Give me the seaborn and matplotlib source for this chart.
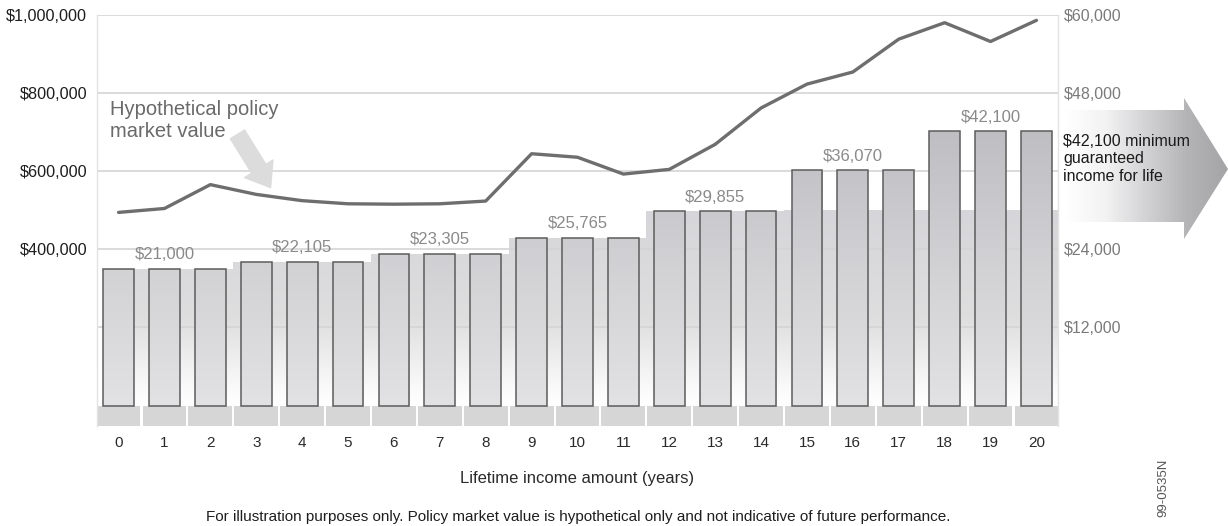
import numpy as np
import matplotlib
matplotlib.use("Agg")
import matplotlib.pyplot as plt
import seaborn as sns
from matplotlib.patches import Polygon, FancyArrowPatch
from matplotlib.colors import LinearSegmentedColormap

# ---------------- data ----------------
years = [0, 1, 2, 3, 4, 5, 6, 7, 8, 9, 10, 11, 12, 13, 14, 15, 16, 17, 18, 19, 20]
income = [21000, 21000, 21000, 22105, 22105, 22105, 23305, 23305, 23305,
          25765, 25765, 25765, 29855, 29855, 29855, 36070, 36070, 36070,
          42100, 42100, 42100]
market_value = [494000, 504000, 565000, 540000, 524000, 516000, 515000,
                516000, 523000, 644000, 635000, 592000, 604000, 668000,
                761000, 822000, 853000, 937000, 979000, 931000, 985000]
label_years = [1, 4, 7, 10, 13, 16, 19]
left_ticks = [400000, 600000, 800000, 1000000]
right_ticks = [12000, 24000, 48000, 60000]
grid_levels = [12000, 24000, 36000, 48000, 60000]
x_label = "Lifetime income amount (years)"
footnote = ("For illustration purposes only. Policy market value is hypothetical "
            "only and not indicative of future performance.")
line_note = "Hypothetical policy\nmarket value"
arrow_note = "$42,100 minimum\nguaranteed\nincome for life"
code_note = "99-0535N"

# ---------------- setup ----------------
sns.set_theme(style="white")
plt.rcParams["font.family"] = ["Liberation Sans", "DejaVu Sans"]

W, H = 1228, 526
fig = plt.figure(figsize=(W / 100, H / 100), dpi=100)
fig.patch.set_facecolor("white")

INC_MIN, INC_MAX = -3130, 60000
SCALE = 1000000 / 60000
XMIN, XMAX = -0.47, 20.47

# background layer (big arrow on the right)
bg = fig.add_axes([0, 0, 1, 1], zorder=-1)
bg.set_xlim(0, W)
bg.set_ylim(H, 0)
bg.axis("off")
arrow_pts = [(1066, 110), (1184, 110), (1184, 98), (1228, 169),
             (1184, 239), (1184, 222), (1066, 222)]
arr_poly = Polygon(arrow_pts, closed=True, facecolor="none", edgecolor="none")
bg.add_patch(arr_poly)
arr_cmap = LinearSegmentedColormap.from_list(
    "arr", ["#ffffff", "#f2f2f3", "#d2d2d4", "#b4b4b6", "#a4a4a6"])
gx = np.linspace(0, 1, 256).reshape(1, -1)
arr_im = bg.imshow(gx, extent=[1066, 1228, 240, 96], cmap=arr_cmap,
                   aspect="auto", interpolation="bilinear")
arr_im.set_clip_path(arr_poly)
bg.set_xlim(0, W)
bg.set_ylim(H, 0)

# main axes (income, bars)
ax = fig.add_axes([97 / W, 1 - 426 / H, (1058 - 97) / W, (426 - 14.5) / H])
ax.patch.set_visible(False)

# step-shaped shaded band behind bars
xe = [-0.335] + years + [20.5]
ye = [income[0]] + income + [income[-1]]
band = ax.fill_between(xe, 0, ye, step="mid", facecolor="none",
                       edgecolor="none", zorder=1)
band_cmap = LinearSegmentedColormap.from_list(
    "band", [(0.0, "#ffffff"), (0.08, "#fbfbfb"), (0.45, "#dededf"),
             (1.0, "#d6d6da")])
gy = np.linspace(0, 1, 256).reshape(-1, 1)
band_im = ax.imshow(gy, extent=[XMIN, XMAX, 0, 30000], origin="lower",
                    cmap=band_cmap, aspect="auto", zorder=1,
                    interpolation="bilinear")
band_im.set_clip_path(band.get_paths()[0], ax.transData)

# gridlines
for g in grid_levels:
    ax.axhline(g, color="#d4d4d4", lw=1.2, zorder=1.5)

# bars
sns.barplot(x=years, y=income, ax=ax, width=0.67, color="#d0d0d4",
            saturation=1, edgecolor="#5c5c5c", linewidth=1.1, zorder=3)
bars = list(ax.patches)
bar_cmap = LinearSegmentedColormap.from_list(
    "bar", [(0.0, "#e2e2e4"), (0.45, "#d3d3d6"), (1.0, "#bdbdc1")])
for p in bars:
    p.set_facecolor("none")
    p.set_zorder(3)
    im = ax.imshow(gy, extent=[XMIN, XMAX, 0, 44000], origin="lower",
                   cmap=bar_cmap, aspect="auto", zorder=2.8,
                   interpolation="bilinear")
    im.set_clip_path(p)

# bottom strip cells
ax.bar(years, [INC_MIN] * len(years), width=0.955, bottom=0,
       color="#d6d6d6", edgecolor="none", zorder=2)

# labels above bars
for yr in label_years:
    v = income[years.index(yr)]
    ax.annotate(f"${v:,}", xy=(yr, v), xytext=(0, 4.5),
                textcoords="offset points", ha="center", va="bottom",
                fontsize=12, color="#8a8a8a", zorder=5)

ax.set_xlim(XMIN, XMAX)
ax.set_ylim(INC_MIN, INC_MAX)
ax.set_xticks(years)
ax.set_xticklabels([str(y) for y in years])
ax.tick_params(axis="x", length=0, pad=7, labelsize=11, labelcolor="#2a2a2a")
ax.set_xlabel(x_label, fontsize=12, color="#2a2a2a", labelpad=15)
ax.set_ylabel("")
for s in ["top", "bottom"]:
    ax.spines[s].set_visible(False)
for s in ["left", "right"]:
    ax.spines[s].set_color("#e2e2e2")
    ax.spines[s].set_linewidth(1.0)

# twin axes (market value line)
axl = ax.twinx()
axl.patch.set_visible(False)
sns.lineplot(x=years, y=market_value, ax=axl, color="#6e6e6e", lw=2.4,
             zorder=4)
axl.set_ylim(INC_MIN * SCALE, INC_MAX * SCALE)
axl.yaxis.tick_left()
axl.yaxis.set_label_position("left")
axl.set_yticks(left_ticks)
axl.set_yticklabels([f"${t:,}" for t in left_ticks])
axl.tick_params(axis="y", length=0, pad=7, labelsize=11.7, labelcolor="#1e1e1e")
axl.set_ylabel("")
for s in axl.spines.values():
    s.set_visible(False)

# income axis ticks on the right (after twinx, which resets them)
ax.yaxis.tick_right()
ax.set_yticks(right_ticks)
ax.set_yticklabels([f"${t:,}" for t in right_ticks])
ax.tick_params(axis="y", length=0, pad=4, labelsize=11.5, labelcolor="#7a7a7a")

# annotation arrow for line
arrow = FancyArrowPatch((236, H - 132), (272, H - 190),
                        transform=None,
                        arrowstyle="simple,head_length=1.0,head_width=1.5,tail_width=0.75",
                        mutation_scale=16, color="#dcdcdc", zorder=6)
fig.add_artist(arrow)
fig.text(110 / W, 1 - 100 / H, line_note, ha="left", va="top",
         fontsize=14.5, color="#6a6a6a", linespacing=1.2)

fig.text(1063 / W, 1 - 134 / H, arrow_note, ha="left", va="top",
         fontsize=11.5, color="#1a1a1a", linespacing=1.2, zorder=5)

fig.text(578 / W, 1 - 517 / H, footnote, ha="center", va="center",
         fontsize=11, color="#1e1e1e")
fig.text(1163 / W, 1 - 488 / H, code_note, ha="center", va="center",
         rotation=90, fontsize=9.5, color="#555555")

fig.savefig("out.png", dpi=100)
